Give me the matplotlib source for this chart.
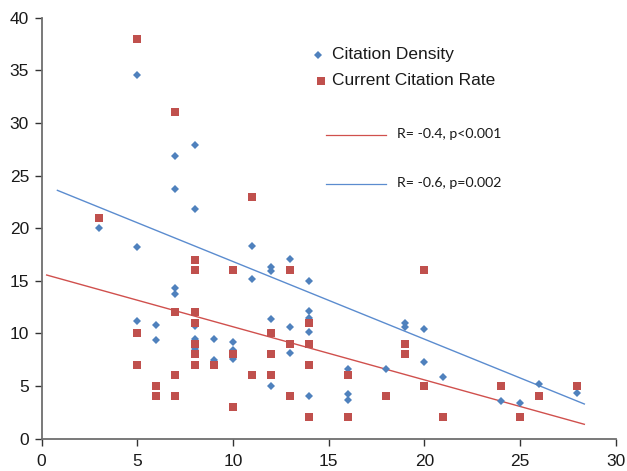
import numpy as np
import matplotlib
matplotlib.use("Agg")
import matplotlib.pyplot as plt

plt.rcParams["font.family"] = ["Liberation Sans", "DejaVu Sans"]

# Citation Density (blue diamonds)
dens_x = [3, 5, 5, 5, 6, 6, 7, 7, 7, 7, 8, 8, 8, 8, 8, 9, 9, 10, 10, 10,
          11, 11, 12, 12, 12, 12, 13, 13, 13, 14, 14, 14, 14, 14,
          16, 16, 16, 18, 19, 19, 20, 20, 21, 24, 25, 26, 28]
dens_y = [20.0, 34.6, 18.2, 11.2, 10.8, 9.4, 26.9, 23.7, 14.3, 13.7,
          27.9, 21.8, 10.7, 9.5, 8.5, 9.5, 7.5, 9.2, 8.4, 7.6,
          18.3, 15.2, 16.3, 15.9, 11.4, 5.0, 17.1, 10.6, 8.1,
          15.0, 12.1, 11.5, 10.1, 4.0,
          6.6, 4.2, 3.7, 6.6, 11.0, 10.6, 10.4, 7.3, 5.8, 3.6, 3.35, 5.15, 4.3]

# Current Citation Rate (red squares)
rate_x = [3, 5, 5, 5, 6, 6, 7, 7, 7, 7, 8, 8, 8, 8, 8, 8, 8, 9, 10, 10, 10,
          11, 11, 12, 12, 12, 13, 13, 13, 14, 14, 14, 14,
          16, 16, 18, 19, 19, 20, 20, 21, 24, 25, 26, 28]
rate_y = [21, 38, 10, 7, 5, 4, 31, 12, 6, 4, 17, 16, 12, 11, 9, 8, 7, 7, 16, 8, 3,
          23, 6, 10, 8, 6, 16, 9, 4, 11, 9, 7, 2,
          6, 2, 4, 9, 8, 16, 5, 2, 5, 2, 4, 5]

# trend lines as drawn (start/end x, start/end y)
dens_trend_x = [0.83, 28.36]
dens_trend_y = [23.59, 3.28]
rate_trend_x = [0.27, 28.36]
rate_trend_y = [15.54, 1.35]

blue = "#4F81BD"
red = "#C0504D"

fig = plt.figure(figsize=(6.27, 4.71), dpi=100)
ax = fig.add_axes([0.0662, 0.069, 0.9158, 0.8934])

ax.plot(dens_trend_x, dens_trend_y, color="#5B8CCF", lw=1.0, zorder=2)
ax.plot(rate_trend_x, rate_trend_y, color="#D0504D", lw=1.0, zorder=2)
ax.plot(dens_x, dens_y, "D", color=blue, ms=3.6, mew=0, zorder=3)
ax.plot(rate_x, rate_y, "s", color=red, ms=5.2, mew=0, zorder=3)

ax.set_xlim(0, 30)
ax.set_ylim(0, 40)
ax.set_xticks(np.arange(0, 31, 5))
ax.set_yticks(np.arange(0, 41, 5))
for s in ["top", "right"]:
    ax.spines[s].set_visible(False)
for s in ["left", "bottom"]:
    ax.spines[s].set_color("#6E6E6E")
    ax.spines[s].set_linewidth(1.3)
ax.tick_params(direction="out", length=5, width=1.0, color="#333333",
               labelsize=12.5, labelcolor="#1A1A1A")
ax.tick_params(axis="y", pad=4)
ax.tick_params(axis="x", pad=6)

# legend
t = ax.transAxes
ax.plot([0.4815], [0.912], "D", color=blue, ms=3.6, mew=0, transform=t, clip_on=False)
ax.text(0.506, 0.912, "Citation Density", transform=t, va="center", ha="left",
        fontsize=12.5, color="#1A1A1A")
ax.plot([0.4868], [0.850], "s", color=red, ms=5.2, mew=0, transform=t, clip_on=False)
ax.text(0.506, 0.850, "Current Citation Rate", transform=t, va="center", ha="left",
        fontsize=12.5, color="#1A1A1A")

ax.plot([0.4955, 0.600], [0.721, 0.721], color="#D0504D", lw=0.9, transform=t)
ax.text(0.619, 0.724, "R= -0.4, p<0.001", transform=t, va="center", ha="left",
        fontsize=10.2, family=["Lato", "DejaVu Sans"], color="#1A1A1A")
ax.plot([0.4955, 0.600], [0.605, 0.605], color="#5B8CCF", lw=0.9, transform=t)
ax.text(0.619, 0.608, "R= -0.6, p=0.002", transform=t, va="center", ha="left",
        fontsize=10.2, family=["Lato", "DejaVu Sans"], color="#1A1A1A")

fig.savefig("out.png", dpi=100)
